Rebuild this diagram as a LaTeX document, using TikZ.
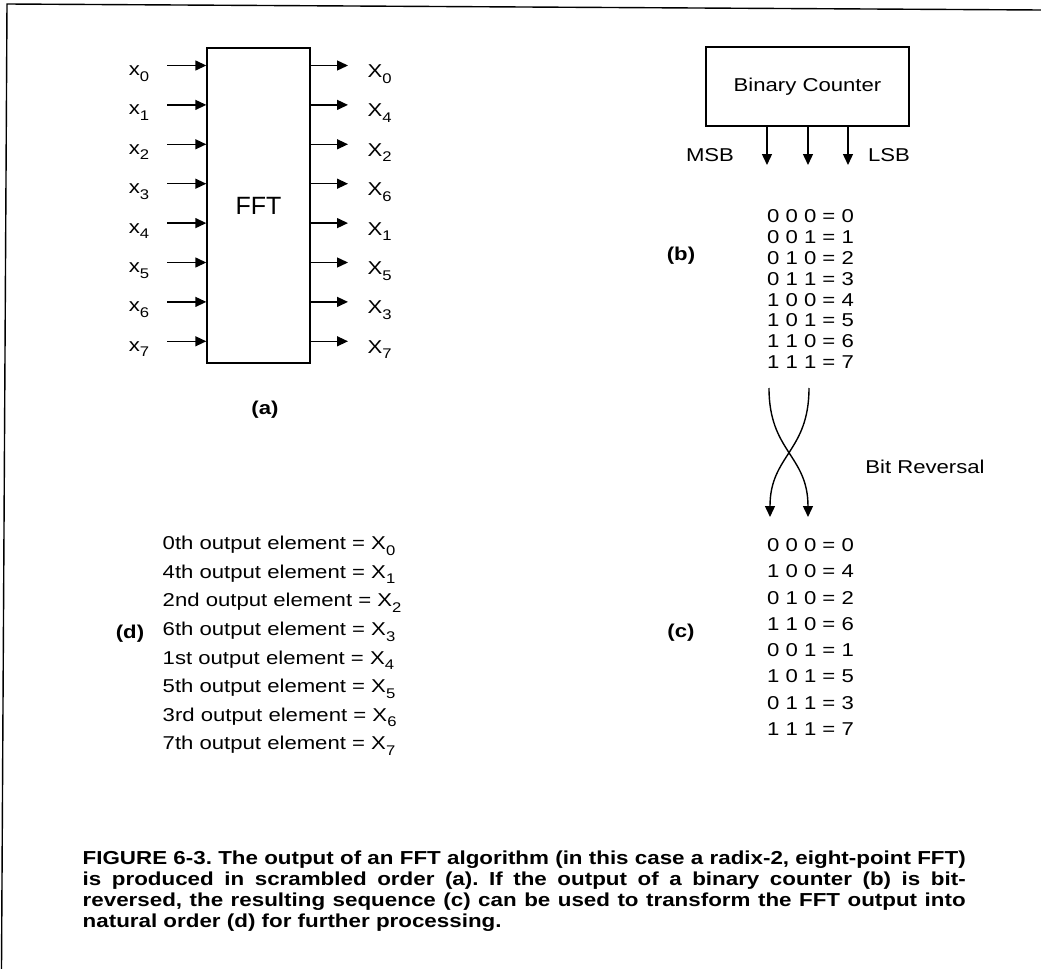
\documentclass[tikz,border=0pt]{standalone}
\usepackage{fontspec}
\setmainfont{Liberation Sans}[FakeStretch=1.19]
\newfontfamily\blockfont{Liberation Sans}
\usetikzlibrary{arrows.meta}

\newcommand\subix[1]{\raisebox{-2.8pt}{\fontsize{7pt}{8pt}\selectfont #1}}

\tikzset{
  sig/.style={-{Triangle[length=5.5pt,width=5pt]}, line width=0.7pt},
  tag/.style={font=\bfseries\fontsize{9.3pt}{11pt}\selectfont},
}

\begin{document}
\begin{tikzpicture}[x=0.5pt,y=-0.5pt,line width=0.7pt,
    font=\fontsize{9.3pt}{11pt}\selectfont]
  \useasboundingbox (0,0) rectangle (1041,969);

  % frame of the scanned page
  \draw (1.5,969) -- (7,4) -- (1041,10);

  % (a) FFT block with inputs and scrambled outputs
  \node (fft) [draw, minimum width=51.5pt, minimum height=157.5pt,
    inner sep=0pt, font=\blockfont\fontsize{12.5pt}{14pt}\selectfont]
    at (258.5,205.5) {FFT};
  \foreach \o [count=\i from 0] in {0,4,2,6,1,5,3,7} {
    \coordinate (in\i) at (167,{65.5+39.4*\i});
    \coordinate (out\i) at (348,{65.5+39.4*\i});
    \draw[sig] (in\i) -- (in\i -| fft.west);
    \draw[sig] (out\i -| fft.east) -- (out\i);
    \node (xin\i) [anchor=base] at (139,{75.5+39.4*\i}) {x\subix{\i}};
    \node (xout\i) [anchor=base west, inner sep=0pt] at (367,{77.5+39.4*\i})
      {X\subix{\o}};
  }
  \node (a) [tag] at (265,410) {(a)};

  % (b) binary counter
  \node (cnt) [draw, minimum width=101.5pt, minimum height=39.5pt]
    at (807.5,86.5) {Binary Counter};
  \foreach \x [count=\j] in {767,808,848} {
    \coordinate (bit\j) at (\x,165);
    \draw[sig] (bit\j |- cnt.south) -- (bit\j);
  }
  \node (msb) at (710,155) {MSB};
  \node (lsb) at (889,155) {LSB};

  \foreach \a/\b/\c/\v [count=\i from 0] in {%
    0/0/0/0, 0/0/1/1, 0/1/0/2, 0/1/1/3,
    1/0/0/4, 1/0/1/5, 1/1/0/6, 1/1/1/7
  } \node (b\i) at (810.5,{216.5+20.8*\i}) {\a\ \b\ \c\ = \v};
  \node (b) [tag] at (681,256) {(b)};

  % bit reversal
  \coordinate (rl) at (769,388);
  \coordinate (rr) at (809,388);
  \coordinate (el) at (770,517);
  \coordinate (er) at (808,517);
  \draw[sig] (rl) .. controls (769,452) and (808,455) .. (er);
  \draw[sig] (rr) .. controls (809,452) and (770,455) .. (el);
  \node (rev) at (925,467) {Bit Reversal};

  % (c) reversed sequence
  \foreach \a/\b/\c/\v [count=\i from 0] in {%
    0/0/0/0, 1/0/0/4, 0/1/0/2, 1/1/0/6,
    0/0/1/1, 1/0/1/5, 0/1/1/3, 1/1/1/7
  } \node (c\i) at (810.5,{545+26.3*\i}) {\a\ \b\ \c\ = \v};
  \node (c) [tag] at (681,633) {(c)};

  % (d) natural order
  \foreach \n [count=\i from 0] in {0th,4th,2nd,6th,1st,5th,3rd,7th}
    \node (d\i) [anchor=base west, inner sep=0pt] at (162,{549.6+28.6*\i})
      {\n\ output element = X\subix{\i}};
  \node (d) [tag] at (130,634) {(d)};

  % caption
  \node (cap) [anchor=north west, inner sep=0pt, text width=441.5pt,
    align=justify, font=\bfseries\fontsize{9.4pt}{10.6pt}\selectfont]
    at (82,850) {\frenchspacing FIGURE 6-3. The output of an FFT algorithm
    (in this case a radix-2, eight-point FFT)\linebreak is produced in
    scrambled order (a). If the output of a binary counter (b) is
    bit-\linebreak reversed, the resulting sequence (c) can be used to
    transform the FFT output into\linebreak natural order (d) for further
    processing.};
\end{tikzpicture}
\end{document}
